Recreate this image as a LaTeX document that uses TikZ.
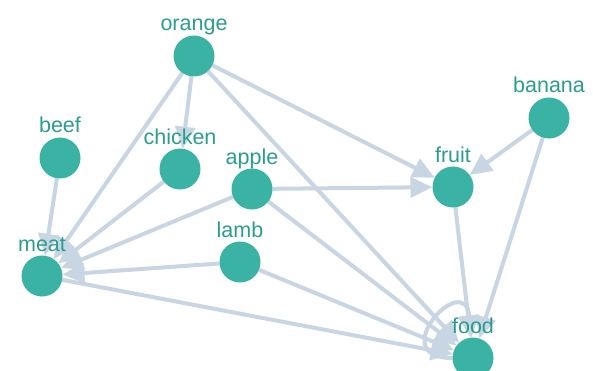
\documentclass[tikz,border=0pt]{standalone}
\usepackage{fontspec}
\setmainfont{Liberation Sans}
\usetikzlibrary{arrows.meta,backgrounds}
\definecolor{nodeteal}{HTML}{3AB3A5}
\definecolor{labelteal}{HTML}{2A9D8F}
\definecolor{edgegrey}{HTML}{C8D5E2}
\tikzset{
  vertex/.style={circle,fill=nodeteal,minimum size=41pt,inner sep=0pt,outer sep=0pt},
  lbl/.style={anchor=base,text=labelteal,font=\fontsize{21.5}{24}\selectfont,inner sep=0pt},
  link/.style={draw=edgegrey,line width=4pt,-{Triangle[length=22pt,width=20pt]}},
}
\begin{document}
\begin{tikzpicture}[x=1pt,y=1pt]
\useasboundingbox (0,0) rectangle (593,370);
% vertices
\node[vertex] (orange)  at (194,314) {};
\node[vertex] (beef)    at (60,212)  {};
\node[vertex] (chicken) at (180,201) {};
\node[vertex] (apple)   at (252,181) {};
\node[vertex] (lamb)    at (240,108) {};
\node[vertex] (meat)    at (42,94)   {};
\node[vertex] (fruit)   at (453,183) {};
\node[vertex] (banana)  at (549,252) {};
\node[vertex] (food)    at (473,12)  {};
% names above the vertices
\foreach \v in {orange,beef,chicken,apple,lamb,meat,fruit,banana,food}
  \node[lbl] (\v-name) at ([yshift=25pt]\v.center) {\v};
% links, kept behind the vertices
\begin{scope}[on background layer]
  \draw[link] (orange) -- (chicken);
  \draw[link] (orange) -- (meat);
  \draw[link] (orange) -- (fruit);
  \draw[link] (orange) -- (food);
  \draw[link] (beef) -- (meat);
  \draw[link] (chicken) -- (meat);
  \draw[link] (apple) -- (meat);
  \draw[link] (apple) -- (fruit);
  \draw[link] (apple) -- (food);
  \draw[link] (lamb) -- (meat);
  \draw[link] (lamb) -- (food);
  \draw[link] (meat) -- (food);
  \draw[link] (fruit) -- (food);
  \draw[link] (banana) -- (fruit);
  \draw[link] (banana) -- (food);
  \draw[link] (food) to[out=180,in=95,min distance=70pt] (food);
\end{scope}
\end{tikzpicture}
\end{document}
